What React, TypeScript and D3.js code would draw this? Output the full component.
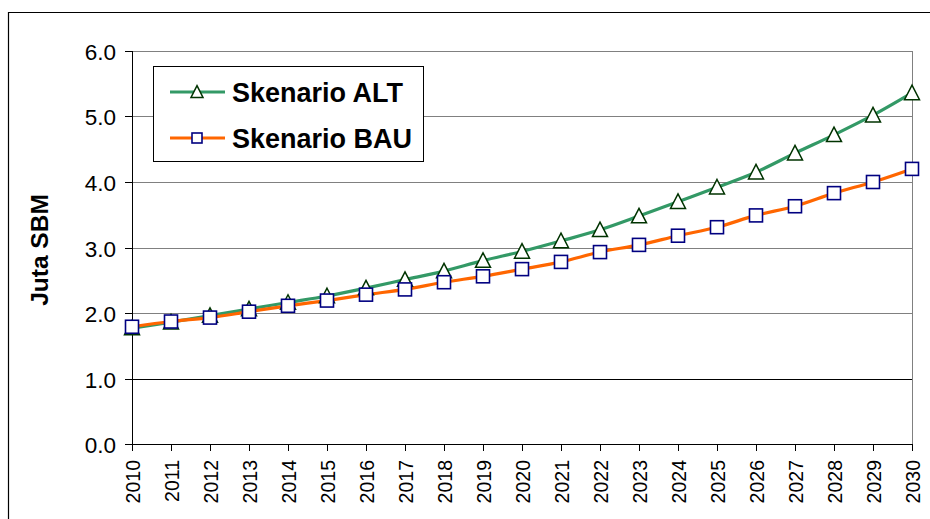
import React from "react";
import * as d3 from "d3";

const WIDTH = 930;
const HEIGHT = 519;

const years = [
  2010, 2011, 2012, 2013, 2014, 2015, 2016, 2017, 2018, 2019, 2020,
  2021, 2022, 2023, 2024, 2025, 2026, 2027, 2028, 2029, 2030,
];
const altValues = [
  1.77, 1.86, 1.96, 2.06, 2.16, 2.26, 2.38, 2.51, 2.64, 2.8, 2.94,
  3.1, 3.27, 3.48, 3.7, 3.92, 4.15, 4.44, 4.72, 5.02, 5.36,
];
const bauValues = [
  1.79, 1.87, 1.93, 2.02, 2.11, 2.19, 2.28, 2.36, 2.47, 2.56, 2.67,
  2.78, 2.93, 3.04, 3.18, 3.31, 3.49, 3.63, 3.83, 4.0, 4.2,
];
const yTicks = [0, 1, 2, 3, 4, 5, 6];

const FONT = "Liberation Sans, Arial, sans-serif";
const GREEN = "#339966";
const ORANGE = "#ff6600";

// plot area
const M = { left: 132, right: 912, top: 51, bottom: 444 };

function Triangle({ x, y, s }: { x: number; y: number; s: number }) {
  const h = s * 0.9;
  return (
    <path
      d={`M${x},${y - h / 2 - 1} L${x + s / 2},${y + h / 2} L${x - s / 2},${y + h / 2} Z`}
      fill="#fff"
      stroke="#003300"
      strokeWidth={1.5}
    />
  );
}

function Square({ x, y, s }: { x: number; y: number; s: number }) {
  return (
    <rect
      x={x - s / 2}
      y={y - s / 2}
      width={s}
      height={s}
      fill="#fff"
      stroke="#000080"
      strokeWidth={1.6}
    />
  );
}

export default function App() {
  const x = d3.scalePoint<number>().domain(years).range([M.left, M.right]);
  const y = d3.scaleLinear().domain([0, 6]).range([M.bottom, M.top]);

  const line = d3
    .line<number>()
    .x((_, i) => x(years[i]) as number)
    .y((d) => y(d))
    .curve(d3.curveCatmullRom.alpha(0.5));

  return (
    <svg
      width={WIDTH}
      height={HEIGHT}
      style={{ position: "absolute", left: 0, top: 0, background: "#fff" }}
      fontFamily={FONT}
    >
      {/* outer chart frame */}
      <path d={`M8.5,${HEIGHT} V12.5 H${WIDTH}`} fill="none" stroke="#000" strokeWidth={1.2} />

      {/* gridlines */}
      {yTicks.slice(1).map((t) => (
        <line
          key={t}
          x1={M.left}
          x2={M.right}
          y1={Math.round(y(t)) + 0.5}
          y2={Math.round(y(t)) + 0.5}
          stroke={t === 1 ? "#000" : "#808080"}
          strokeWidth={1}
        />
      ))}
      <line x1={M.right + 0.5} x2={M.right + 0.5} y1={M.top} y2={M.bottom} stroke="#808080" />

      {/* axes */}
      <line x1={M.left + 0.5} x2={M.left + 0.5} y1={M.top} y2={M.bottom} stroke="#000" />
      <line x1={M.left} x2={M.right + 1} y1={M.bottom + 0.5} y2={M.bottom + 0.5} stroke="#000" />

      {yTicks.map((t) => (
        <g key={t} transform={`translate(0,${Math.round(y(t)) + 0.5})`}>
          <line x1={M.left - 7} x2={M.left} stroke="#000" />
          <text x={116} dy="0.36em" textAnchor="end" fontSize={22.5} fill="#000">
            {t.toFixed(1)}
          </text>
        </g>
      ))}

      {years.map((yr) => {
        const px = Math.round(x(yr) as number) + 0.5;
        return (
          <g key={yr}>
            <line x1={px} x2={px} y1={M.bottom} y2={M.bottom + 7} stroke="#000" />
            <text
              transform={`translate(${px + 7},460) rotate(-90)`}
              textAnchor="end"
              fontSize={19.5}
              fill="#000"
            >
              {yr}
            </text>
          </g>
        );
      })}

      <text
        transform="translate(48,250) rotate(-90)"
        textAnchor="middle"
        fontSize={24.5}
        fontWeight="bold"
        fill="#000"
      >
        Juta SBM
      </text>

      {/* series */}
      <path d={line(altValues) ?? ""} fill="none" stroke={GREEN} strokeWidth={3.2} />
      <path d={line(bauValues) ?? ""} fill="none" stroke={ORANGE} strokeWidth={3.2} />

      {altValues.map((v, i) => (
        <Triangle key={"a" + i} x={x(years[i]) as number} y={y(v)} s={15} />
      ))}
      {bauValues.map((v, i) => (
        <Square key={"b" + i} x={x(years[i]) as number} y={y(v)} s={13} />
      ))}

      {/* legend */}
      <rect x={153.5} y={66.5} width={270} height={95} fill="#fff" stroke="#000" />
      <line x1={170} x2={225} y1={92} y2={92} stroke={GREEN} strokeWidth={3.2} />
      <Triangle x={197} y={92} s={12} />
      <text x={232} y={92} dy="0.36em" fontSize={27} fontWeight="bold" fill="#000">
        Skenario ALT
      </text>
      <line x1={170} x2={225} y1={138} y2={138} stroke={ORANGE} strokeWidth={3.2} />
      <Square x={197} y={138} s={10} />
      <text x={232} y={138} dy="0.36em" fontSize={27} fontWeight="bold" fill="#000">
        Skenario BAU
      </text>
    </svg>
  );
}
